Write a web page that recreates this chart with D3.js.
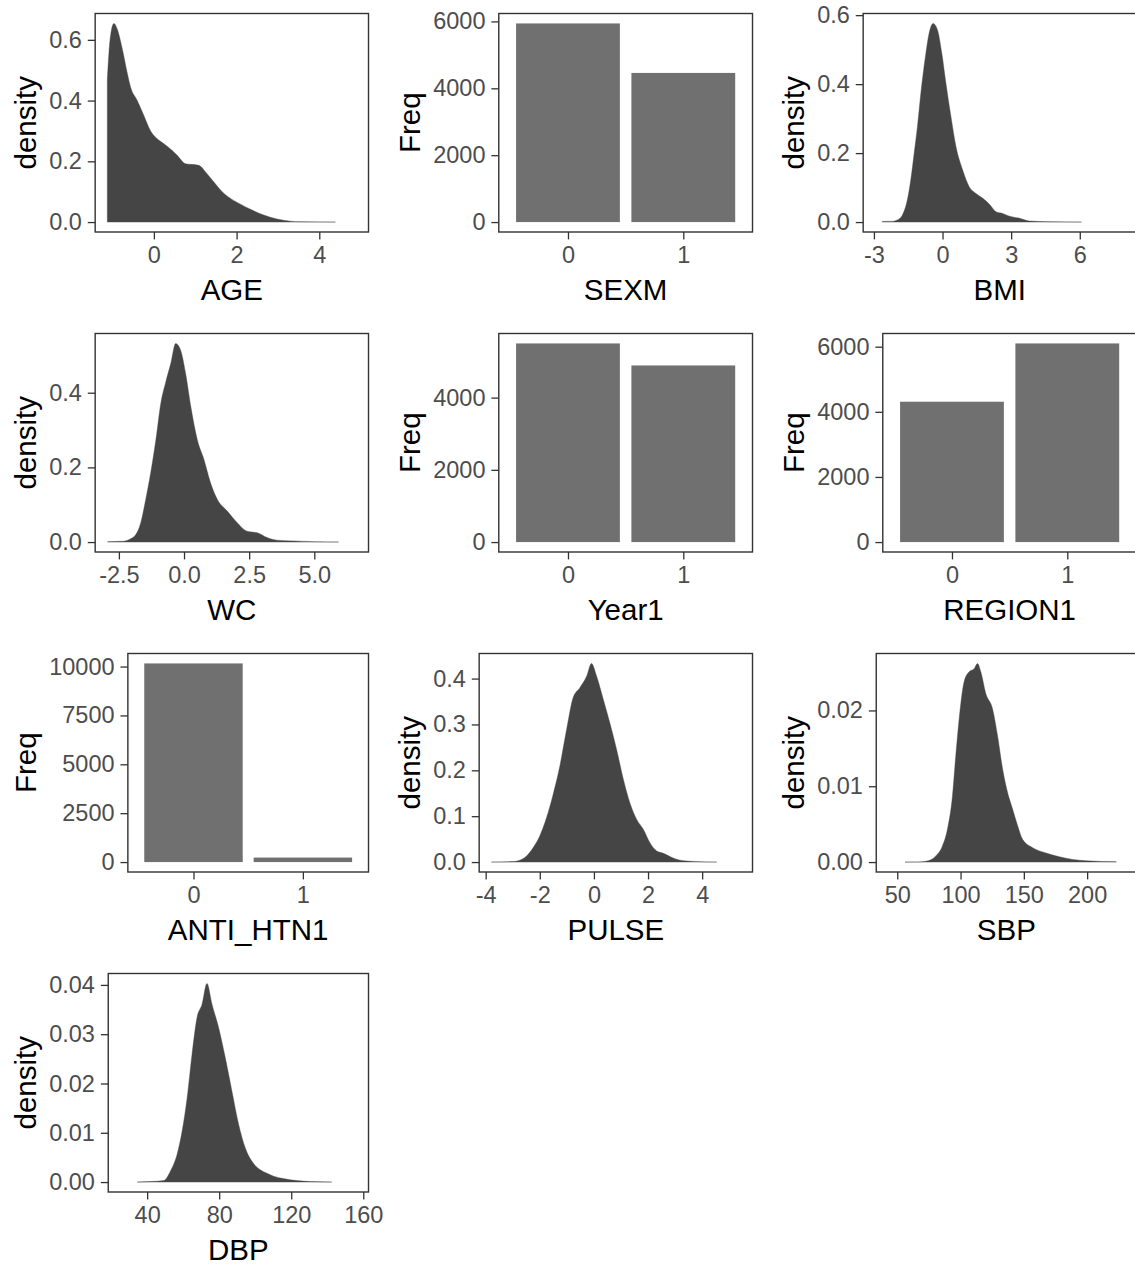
<!DOCTYPE html>
<html>
<head>
<meta charset="utf-8">
<script src="https://cdn.jsdelivr.net/npm/d3@7"></script>
<style>
  body { margin: 0; background: #fff; }
  svg { display: block; font-family: "Liberation Sans", Arial, sans-serif; }
</style>
</head>
<body>
<svg id="chart" width="1135" height="1266"></svg>
<script>
// density curves (x value, density)
var ageX = [-1.126, -1.086, -1.030, -0.966, -0.885, -0.764, -0.643, -0.563, -0.402, -0.241, -0.080, 0.081, 0.242, 0.443, 0.564, 0.766, 0.886, 1.088, 1.249, 1.450, 1.651, 1.853, 2.094, 2.336, 2.657, 2.979, 3.30, 3.54, 4.39];
var ageY = [0.47, 0.56, 0.63, 0.654, 0.635, 0.57, 0.49, 0.444, 0.40, 0.35, 0.30, 0.274, 0.258, 0.236, 0.22, 0.192, 0.19, 0.187, 0.165, 0.132, 0.10, 0.078, 0.059, 0.042, 0.023, 0.01, 0.003, 0.001, 0];

var bmiX = [-2.63, -2.2, -1.98, -1.76, -1.54, -1.39, -1.24, -1.10, -0.95, -0.73, -0.59, -0.41, -0.22, -0.03, 0.15, 0.37, 0.59, 0.88, 1.17, 1.46, 1.76, 2.05, 2.34, 2.63, 2.93, 3.37, 3.8, 4.68, 6.07];
var bmiY = [0.002, 0.002, 0.006, 0.02, 0.064, 0.122, 0.20, 0.276, 0.373, 0.489, 0.547, 0.576, 0.557, 0.489, 0.402, 0.305, 0.218, 0.151, 0.102, 0.083, 0.069, 0.052, 0.030, 0.025, 0.017, 0.011, 0.003, 0.001, 0];

var wcX = [-2.93, -2.36, -2.10, -1.85, -1.66, -1.47, -1.28, -1.08, -0.89, -0.70, -0.51, -0.32, -0.13, 0.06, 0.26, 0.51, 0.77, 1.02, 1.28, 1.66, 2.04, 2.42, 2.81, 3.19, 3.57, 4.21, 4.97, 5.93];
var wcY = [0.001, 0.002, 0.007, 0.02, 0.052, 0.114, 0.185, 0.274, 0.372, 0.429, 0.478, 0.532, 0.514, 0.452, 0.363, 0.274, 0.22, 0.158, 0.114, 0.083, 0.052, 0.029, 0.025, 0.012, 0.005, 0.003, 0.001, 0];

var pulseX = [-3.79, -2.99, -2.74, -2.49, -2.25, -2.0, -1.75, -1.51, -1.26, -1.01, -0.77, -0.52, -0.27, -0.09, 0.10, 0.35, 0.59, 0.84, 1.09, 1.33, 1.58, 1.83, 2.07, 2.32, 2.57, 2.81, 3.19, 3.68, 4.54];
var pulseY = [0, 0.001, 0.004, 0.013, 0.031, 0.057, 0.097, 0.147, 0.209, 0.289, 0.358, 0.38, 0.405, 0.433, 0.405, 0.354, 0.303, 0.245, 0.18, 0.129, 0.093, 0.071, 0.042, 0.024, 0.019, 0.012, 0.004, 0.0015, 0];

var sbpX = [56.1, 64.5, 69.8, 75.1, 80.4, 85.6, 89.6, 93.6, 96.2, 98.9, 102.8, 106.8, 110.7, 113.4, 116.0, 120.0, 125.3, 129.2, 133.2, 137.1, 141.1, 145.1, 149.0, 156.9, 167.5, 178.1, 188.6, 199.2, 223.0];
var sbpY = [0, 0, 0.00004, 0.0002, 0.0008, 0.0021, 0.0043, 0.0087, 0.014, 0.0189, 0.0238, 0.0251, 0.0255, 0.0262, 0.0251, 0.0222, 0.0202, 0.0167, 0.0123, 0.0092, 0.007, 0.0048, 0.003, 0.0019, 0.0012, 0.0007, 0.00035, 0.00018, 0.00004];

var dbpX = [34.5, 41.8, 49.2, 52.9, 56.6, 59.4, 62.2, 64.9, 67.7, 70.5, 73.2, 76.0, 79.7, 83.4, 87.1, 90.8, 94.5, 98.2, 102.8, 106.5, 110.2, 115.7, 123.1, 130.5, 142.5];
var dbpY = [0, 0.0001, 0.0003, 0.0022, 0.0056, 0.0103, 0.0171, 0.0259, 0.0334, 0.0361, 0.0403, 0.0361, 0.0313, 0.0252, 0.0184, 0.0117, 0.0069, 0.0042, 0.0025, 0.0018, 0.0012, 0.0007, 0.0003, 0.0001, 0];

// bar counts
var binCats = [0, 1];
var sexmFreq = [5940, 4460];
var year1Freq = [5500, 4890];
var region1Freq = [4310, 6100];
var antiFreq = [10160, 230];

// axis limits of the density panels
var ageDomain = [-1.42, 5.19];
var bmiDomain = [-3.47, 8.48];
var wcDomain = [-3.41, 7.08];
var pulseDomain = [-4.24, 5.86];
var sbpDomain = [33.4, 239];
var dbpDomain = [18.4, 162.9];

// tick values
var ageTicks = [0, 2, 4];
var bmiTicks = [-3, 0, 3, 6];
var wcTicks = [-2.5, 0, 2.5, 5];
var pulseTicks = [-4, -2, 0, 2, 4];
var sbpTicks = [50, 100, 150, 200];
var dbpTicks = [40, 80, 120, 160];
var dens6Ticks = [0, 0.2, 0.4, 0.6];
var dens4Ticks = [0, 0.2, 0.4];
var pulseYTicks = [0, 0.1, 0.2, 0.3, 0.4];
var sbpYTicks = [0, 0.01, 0.02];
var dbpYTicks = [0, 0.01, 0.02, 0.03, 0.04];
var freq6Ticks = [0, 2000, 4000, 6000];
var freq4Ticks = [0, 2000, 4000];
var antiTicks = [0, 2500, 5000, 7500, 10000];

var plain = function (d) { return String(d); };
var f1 = function (d) { return d.toFixed(1); };
var f2 = function (d) { return d.toFixed(2); };

var panels = [
    { row: 0, col: 0, kind: "density", title: "AGE", xs: ageX, ys: ageY, xDomain: ageDomain, xTicks: ageTicks, xFmt: plain, yTicks: dens6Ticks, yFmt: f1 },
    { row: 0, col: 1, kind: "bar", title: "SEXM", freq: sexmFreq, yTicks: freq6Ticks },
    { row: 0, col: 2, kind: "density", title: "BMI", xs: bmiX, ys: bmiY, xDomain: bmiDomain, xTicks: bmiTicks, xFmt: plain, yTicks: dens6Ticks, yFmt: f1 },
    { row: 1, col: 0, kind: "density", title: "WC", xs: wcX, ys: wcY, xDomain: wcDomain, xTicks: wcTicks, xFmt: f1, yTicks: dens4Ticks, yFmt: f1 },
    { row: 1, col: 1, kind: "bar", title: "Year1", freq: year1Freq, yTicks: freq4Ticks },
    { row: 1, col: 2, kind: "bar", title: "REGION1", freq: region1Freq, yTicks: freq6Ticks },
    { row: 2, col: 0, kind: "bar", title: "ANTI_HTN1", freq: antiFreq, yTicks: antiTicks },
    { row: 2, col: 1, kind: "density", title: "PULSE", xs: pulseX, ys: pulseY, xDomain: pulseDomain, xTicks: pulseTicks, xFmt: plain, yTicks: pulseYTicks, yFmt: f1 },
    { row: 2, col: 2, kind: "density", title: "SBP", xs: sbpX, ys: sbpY, xDomain: sbpDomain, xTicks: sbpTicks, xFmt: plain, yTicks: sbpYTicks, yFmt: f2 },
    { row: 3, col: 0, kind: "density", title: "DBP", xs: dbpX, ys: dbpY, xDomain: dbpDomain, xTicks: dbpTicks, xFmt: plain, yTicks: dbpYTicks, yFmt: f2 }
];

var svg = d3.select("#chart");
var cellW = 384, cellH = 320;
var titleSize = 29.5, tickSize = 23.5, tickLen = 7.4, tickGap = 5.9;
var densFill = "#454545", barFill = "#707070", lineCol = "#333333";

function drawPanel(p) {
    var cx = p.col * cellW, cy = p.row * cellH;
    var g = svg.append("g");

    var yFmt = p.yFmt || plain;
    // widest y label decides where the panel starts, like ggplot does
    var probe = g.append("text").style("font-size", tickSize + "px");
    var w = d3.max(p.yTicks, function (t) { probe.text(yFmt(t)); return probe.node().getComputedTextLength(); });
    probe.remove();

    var left = cx + 62.5 + w, right = cx + 368.5;
    var top = cy + 13.5, bottom = cy + 232;

    var x, y, xAxis;
    if (p.kind == "density") {
        var maxY = d3.max(p.ys);
        x = d3.scaleLinear().domain(p.xDomain).range([left, right]);
        y = d3.scaleLinear().domain([-0.05 * maxY, 1.05 * maxY]).range([bottom, top]);
        var pts = p.xs.map(function (v, i) { return [v, p.ys[i]]; });
        var area = d3.area()
            .x(function (d) { return x(d[0]); })
            .y0(y(0))
            .y1(function (d) { return y(d[1]); })
            .curve(d3.curveMonotoneX);
        g.append("path")
            .datum(pts)
            .attr("d", area)
            .attr("fill", densFill)
            .attr("stroke", densFill)
            .attr("stroke-width", 0.4);
        xAxis = d3.axisBottom(x).tickValues(p.xTicks).tickFormat(p.xFmt);
    } else {
        var maxF = d3.max(p.freq);
        x = d3.scaleLinear().domain([-0.6, 1.6]).range([left, right]);
        y = d3.scaleLinear().domain([-0.05 * maxF, 1.05 * maxF]).range([bottom, top]);
        g.selectAll("rect.bar")
            .data(binCats)
            .enter()
            .append("rect")
            .attr("class", "bar")
            .attr("x", function (d) { return x(d - 0.45); })
            .attr("width", function (d) { return x(d + 0.45) - x(d - 0.45); })
            .attr("y", function (d, i) { return y(p.freq[i]); })
            .attr("height", function (d, i) { return y(0) - y(p.freq[i]); })
            .attr("fill", barFill);
        xAxis = d3.axisBottom(x).tickValues(binCats).tickFormat(plain);
    }

    var yAxis = d3.axisLeft(y).tickValues(p.yTicks).tickFormat(yFmt)
        .tickSize(tickLen).tickPadding(tickGap);
    xAxis.tickSize(tickLen).tickPadding(6.5);

    var ya = g.append("g").attr("transform", "translate(" + left + ",0)").call(yAxis);
    var xa = g.append("g").attr("transform", "translate(0," + bottom + ")").call(xAxis);
    [ya, xa].forEach(function (a) {
        a.select(".domain").remove();
        a.selectAll("line").attr("stroke", lineCol).attr("stroke-width", 1.3);
        a.selectAll("text").attr("fill", "#4d4d4d").style("font-size", tickSize + "px")
            .attr("font-family", "Liberation Sans, Arial, sans-serif");
    });

    // panel border
    g.append("rect")
        .attr("x", left).attr("y", top)
        .attr("width", right - left).attr("height", bottom - top)
        .attr("fill", "none").attr("stroke", lineCol).attr("stroke-width", 1.4);

    // axis titles
    g.append("text")
        .attr("x", (left + right) / 2).attr("y", bottom + 68)
        .attr("text-anchor", "middle")
        .style("font-size", titleSize + "px")
        .text(p.title);
    g.append("text")
        .attr("transform", "translate(" + (cx + 36) + "," + ((top + bottom) / 2) + ") rotate(-90)")
        .attr("text-anchor", "middle")
        .style("font-size", titleSize + "px")
        .text(p.kind == "density" ? "density" : "Freq");
}

panels.forEach(drawPanel);
</script>
</body>
</html>
